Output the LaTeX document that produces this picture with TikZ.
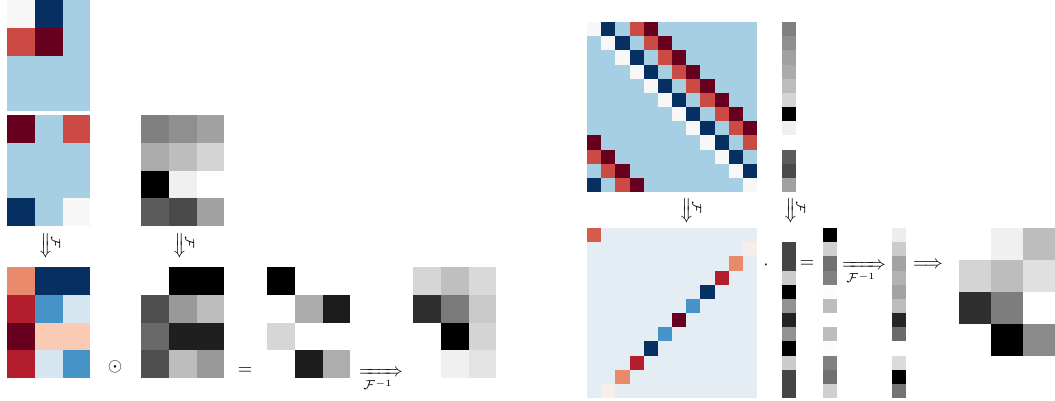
\documentclass[tikz,border=0pt]{standalone}
\usepackage{mathtools}
\usetikzlibrary{positioning}
\definecolor{cwhite}{HTML}{F7F7F7}
\definecolor{cnavy}{HTML}{053061}
\definecolor{clight}{HTML}{A7CFE4}
\definecolor{cred}{HTML}{CB4A43}
\definecolor{cdarkred}{HTML}{67001F}
\definecolor{csalmon}{HTML}{EA8A6C}
\definecolor{ccrimson}{HTML}{B41D2E}
\definecolor{cblue}{HTML}{4694C7}
\definecolor{cpale}{HTML}{D5E6F1}
\definecolor{cpeach}{HTML}{FACBB4}
\definecolor{cdiagbg}{HTML}{E4EDF3}
\definecolor{cdiagred}{HTML}{D45C4C}
\definecolor{cblush}{HTML}{F7EEEA}
\tikzset{
  op/.style={inner sep=0pt, font=\normalsize},
  fourier/.style={rotate=-90, inner sep=0pt}
}
% x, y, cell size, rows of fill colours
\newcommand\heatmap[4]{%
  \foreach \row [count=\r from 0] in {#4}{
    \foreach \col [count=\k from 0] in \row
      \fill[fill=\col] ({#1+\k*#3},{#2+\r*#3}) rectangle ++(#3,#3);
  }%
}
\begin{document}
\begin{tikzpicture}[x=0.54pt, y=-0.54pt]
  \useasboundingbox (0,0) rectangle (1055,400);

  % kernel and shifted kernel
  \heatmap{7}{0}{27.75}{{cwhite,cnavy,clight},{cred,cdarkred,clight},{clight,clight,clight},{clight,clight,clight}}
  \heatmap{7}{115}{27.75}{{cdarkred,clight,cred},{clight,clight,clight},{clight,clight,clight},{cnavy,clight,cwhite}}
  % image
  \heatmap{141}{115}{27.75}{{black!50,black!44,black!37},{black!33,black!26,black!17},{black!100,black!6,black!0},{black!64,black!71,black!37}}

  \node[fourier] (ftkernel) at (45,246) {$\xRightarrow{\mathcal{F}}$};
  \node[fourier] (ftimage) at (179,246) {$\xRightarrow{\mathcal{F}}$};

  % frequency domain
  \heatmap{7}{267}{27.75}{{csalmon,cnavy,cnavy},{ccrimson,cblue,cpale},{cdarkred,cpeach,cpeach},{ccrimson,cpale,cblue}}
  \heatmap{141}{267}{27.75}{{black!0,black!100,black!100},{black!69,black!40,black!26},{black!59,black!88,black!88},{black!69,black!26,black!40}}
  \heatmap{267}{267}{27.75}{{black!100,black!0,black!0},{black!0,black!33,black!89},{black!16,black!0,black!0},{black!0,black!89,black!32}}
  \heatmap{413}{267}{27.75}{{black!16,black!25,black!15},{black!82,black!52,black!21},{black!0,black!100,black!17},{black!0,black!6,black!11}}

  \node[op] (hadamard) at (115,367) {$\odot$};
  \node[op] (eqleft) at (245,371) {$=$};
  \node[op] (invleft) at (381,378) {$\xRightarrow[\mathcal{F}^{-1}]{}$};

  % circulant matrix times vector
  \fill[clight] (587,22) rectangle ++(170,170);
  \foreach \i in {0,...,11}
    \foreach \d/\col in {0/cwhite,1/cnavy,3/cred,4/cdarkred}{
      \pgfmathtruncatemacro\j{mod(\i+\d,12)}
      \fill[fill=\col] ({587+\j*14.17},{22+\i*14.17}) rectangle ++(14.17,14.17);
    }
  \heatmap{782}{22}{14.17}{{black!50},{black!44},{black!37},{black!33},{black!26},{black!17},{black!100},{black!6},{black!0},{black!64},{black!71},{black!37}}

  \node[fourier] (ftcirc) at (686,211) {$\xRightarrow{\mathcal{F}}$};
  \node[fourier] (ftvec) at (790,211) {$\xRightarrow{\mathcal{F}}$};

  % diagonalised
  \fill[cdiagbg] (587,228) rectangle ++(170,170);
  \foreach \col [count=\i from 0] in {cdiagred,cblush,csalmon,ccrimson,cnavy,cblue,cdarkred,cblue,cnavy,ccrimson,csalmon,cblush}{
    \pgfmathtruncatemacro\j{mod(12-\i,12)}
    \fill[fill=\col] ({587+\j*14.17},{228+\i*14.17}) rectangle ++(14.17,14.17);
  }
  \heatmap{782}{242.2}{14.17}{{black!73},{black!73},{black!20},{black!100},{black!43},{black!87},{black!43},{black!100},{black!20},{black!73},{black!73}}
  \heatmap{823}{228}{14.17}{{black!100},{black!19},{black!56},{black!50},{black!1},{black!26},{black!0},{black!26},{black!1},{black!50},{black!56},{black!19}}
  \heatmap{892}{228}{14.17}{{black!7},{black!20},{black!36},{black!30},{black!36},{black!26},{black!85},{black!58},{black!0},{black!14},{black!100},{black!55}}
  \heatmap{959}{228}{32}{{black!0,black!6,black!26},{black!17,black!26,black!12},{black!82,black!51,black!0},{black!0,black!100,black!46}}

  \node[op] (cdotop) at (766,265) {$\cdot$};
  \node[op] (eqright) at (807,264) {$=$};
  \node[op] (invright) at (864,271) {$\xRightarrow[\mathcal{F}^{-1}]{}$};
  \node[op] (reshape) at (928,265) {$\Longrightarrow$};
\end{tikzpicture}
\end{document}
